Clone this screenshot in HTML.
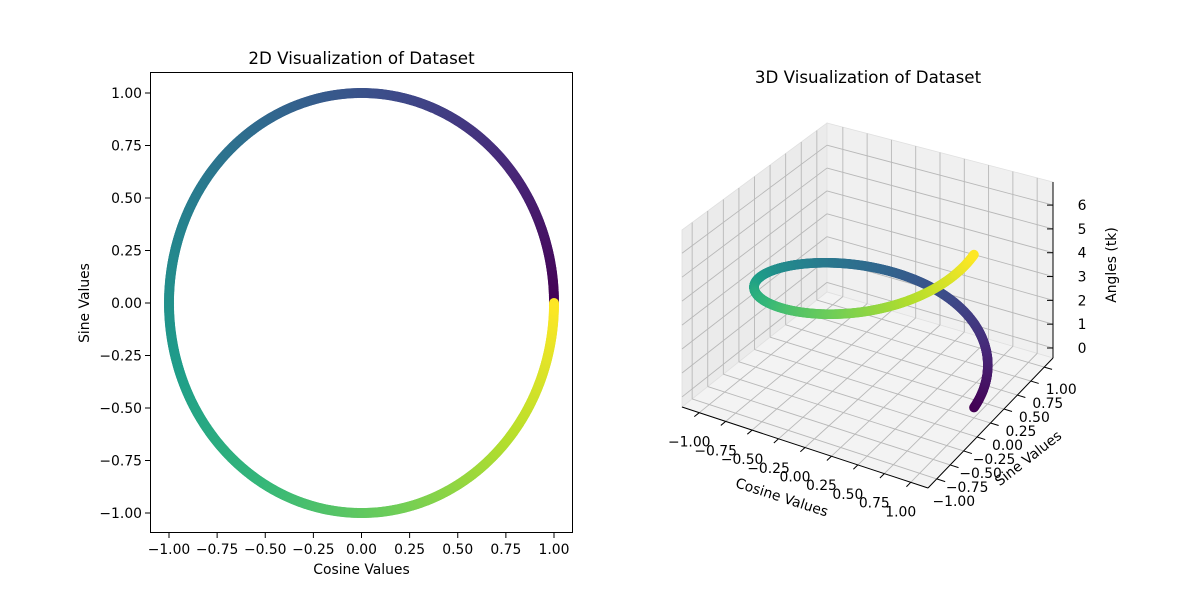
<!DOCTYPE html>
<html><head><meta charset="utf-8"><style>
body{margin:0;background:#fff;}
svg{display:block;font-family:"DejaVu Sans","Liberation Sans",sans-serif;}
</style></head><body>
<svg id="fig" width="1200" height="600" viewBox="0 0 1200 600" xmlns="http://www.w3.org/2000/svg">
<rect width="1200" height="600" fill="#fff"/>
<g id="left"></g>
<g id="right"></g>
</svg>
<script>
// ---- data ----
const pointCount = 1000;
const angleMax = 2 * Math.PI;
const angles = Array.from({length: pointCount}, (_, i) => angleMax * i / (pointCount - 1));
const cosValues = angles.map(Math.cos);
const sinValues = angles.map(Math.sin);
const tickLabels = ["\u22121.00","\u22120.75","\u22120.50","\u22120.25","0.00","0.25","0.50","0.75","1.00"];
const tickValues = [-1,-0.75,-0.5,-0.25,0,0.25,0.5,0.75,1];
const zTickValues = [0,1,2,3,4,5,6];

const NS = "http://www.w3.org/2000/svg";
const FS = 13.9;
function mk(parent, tag, attrs, text){
  const e = document.createElementNS(NS, tag);
  for (const k in attrs) e.setAttribute(k, attrs[k]);
  if (text !== undefined) e.textContent = text;
  parent.appendChild(e); return e;
}
const VIR = [[68,1,84],[72,40,120],[62,74,137],[49,104,142],[38,130,142],[31,158,137],[53,183,121],[109,205,89],[180,222,44],[253,231,37]];
function viridis(f){
  f = Math.max(0, Math.min(1, f)) * (VIR.length - 1);
  const i = Math.min(Math.floor(f), VIR.length - 2), r = f - i;
  const a = VIR[i], b = VIR[i+1];
  return `rgb(${a.map((v,k)=>Math.round(v+(b[k]-v)*r)).join(',')})`;
}
const tMin = Math.min(...angles), tMax = Math.max(...angles);

// ---- 2D chart ----
const L = document.getElementById('left');
const x2 = v => 361.5 + v * 192.5;
const y2 = v => 303 - v * 210;
let t = mk(L,'text',{x:361.5,y:64,'text-anchor':'middle','font-size':16.7,fill:'#000'},'2D Visualization of Dataset');


const pts2 = mk(L,'g',{});


angles.forEach((a,i)=>{
  const c = mk(pts2,'circle',{cx:x2(cosValues[i]),cy:y2(sinValues[i]),r:5,fill:viridis((a-tMin)/(tMax-tMin))});
  
  
});
const frame = mk(L,'rect',{x:150.5,y:72.5,width:422,height:460,fill:'none',stroke:'#000','stroke-width':1});


tickValues.forEach((v,i)=>{
  mk(L,'line',{x1:x2(v),x2:x2(v),y1:533,y2:538,stroke:'#000'});
  const tx = mk(L,'text',{x:x2(v),y:554,'text-anchor':'middle','font-size':FS},tickLabels[i]);
  
  
  mk(L,'line',{x1:145,x2:150,y1:y2(v),y2:y2(v),stroke:'#000'});
  const ty = mk(L,'text',{x:142,y:y2(v)+5,'text-anchor':'end','font-size':FS},tickLabels[i]);
  
  
});
t = mk(L,'text',{x:361.5,y:574,'text-anchor':'middle','font-size':FS},'Cosine Values');


t = mk(L,'text',{x:89,y:303,'text-anchor':'middle','font-size':FS,transform:'rotate(-90 89 303)'},'Sine Values');



// ---- 3D chart ----
const R = document.getElementById('right');
const xlim=[-1.163,1.163], ylim=[-1.163,1.163], zlim=[-0.42,6.97];
const FA=[682,407],FB=[928,488],FC=[1053,358],FD=[827,292];
const TA=[682,230],TB=[928,303],TC=[1053,182],TD=[827,123];
function bil(P,u,v){ return [0,1].map(k=>P[0][k]*(1-u)*(1-v)+P[1][k]*u*(1-v)+P[2][k]*u*v+P[3][k]*(1-u)*v); }
function proj(x,y,z){
  const u=(x-xlim[0])/(xlim[1]-xlim[0]), v=(y-ylim[0])/(ylim[1]-ylim[0]), w=(z-zlim[0])/(zlim[1]-zlim[0]);
  const f=bil([FA,FB,FC,FD],u,v), g=bil([TA,TB,TC,TD],u,v);
  return [f[0]+(g[0]-f[0])*w, f[1]+(g[1]-f[1])*w];
}
t = mk(R,'text',{x:868,y:83,'text-anchor':'middle','font-size':16.7},'3D Visualization of Dataset');


function poly(pts,fill,name){
  const p = mk(R,'polygon',{points:pts.map(q=>q.join(',')).join(' '),fill:fill,stroke:'#e0e0e0','stroke-width':0.8});
  
  
}
poly([FA,FD,TD,TA],'#ebebeb','pane-left');
poly([FD,FC,TC,TD],'#f0f0f0','pane-back');
poly([FA,FB,FC,FD],'#f3f3f3','pane-floor');
function ln(p,q,st,w){ return mk(R,'line',{x1:p[0],y1:p[1],x2:q[0],y2:q[1],stroke:st,'stroke-width':w}); }
const grid = mk(R,'g',{});


const G='#b8b8b8';
tickValues.forEach(v=>{
  grid.appendChild(ln(proj(v,ylim[0],zlim[0]),proj(v,ylim[1],zlim[0]),G,0.9));
  grid.appendChild(ln(proj(v,ylim[1],zlim[0]),proj(v,ylim[1],zlim[1]),G,0.9));
  grid.appendChild(ln(proj(xlim[0],v,zlim[0]),proj(xlim[1],v,zlim[0]),G,0.9));
  grid.appendChild(ln(proj(xlim[0],v,zlim[0]),proj(xlim[0],v,zlim[1]),G,0.9));
});
zTickValues.forEach(v=>{
  grid.appendChild(ln(proj(xlim[0],ylim[0],v),proj(xlim[0],ylim[1],v),G,0.9));
  grid.appendChild(ln(proj(xlim[0],ylim[1],v),proj(xlim[1],ylim[1],v),G,0.9));
});
let a = ln(FA,FB,'#000',1);  
a = ln(FB,FC,'#000',1);  
a = ln(FC,TC,'#000',1);  
tickValues.forEach((v,i)=>{
  const p=proj(v,ylim[0],zlim[0]), p2=proj(v,ylim[0]-0.08,zlim[0]);
  ln(p,p2,'#000',1);
  const tx=mk(R,'text',{x:p[0]-10,y:p[1]+34,'text-anchor':'middle','font-size':FS},tickLabels[i]);
  
  
  const q=proj(xlim[1],v,zlim[0]), q2=proj(xlim[1]+0.08,v,zlim[0]);
  ln(q,q2,'#000',1);
  const ty=mk(R,'text',{x:q[0]+17,y:q[1]+27,'text-anchor':'middle','font-size':FS},tickLabels[i]);
  
  
});
zTickValues.forEach(v=>{
  const p=proj(xlim[1],ylim[1],v);
  ln(p,[p[0]-6,p[1]],'#000',1);
  const tz=mk(R,'text',{x:p[0]+29,y:p[1]+5,'text-anchor':'middle','font-size':FS},String(v));
  
  
});
t = mk(R,'text',{x:782,y:502,'text-anchor':'middle','font-size':FS,transform:'rotate(18 782 497)'},'Cosine Values');


t = mk(R,'text',{x:1028,y:463,'text-anchor':'middle','font-size':FS,transform:'rotate(-38 1028 458)'},'Sine Values');


t = mk(R,'text',{x:1111,y:270,'text-anchor':'middle','font-size':FS,transform:'rotate(-90 1111 265)'},'Angles (tk)');


const pts3 = mk(R,'g',{});


angles.forEach((ang,i)=>{
  const p=proj(cosValues[i],sinValues[i],ang);
  const c=mk(pts3,'circle',{cx:p[0],cy:p[1],r:4.8,fill:viridis((ang-tMin)/(tMax-tMin))});
  
  
});
</script>
</body></html>
